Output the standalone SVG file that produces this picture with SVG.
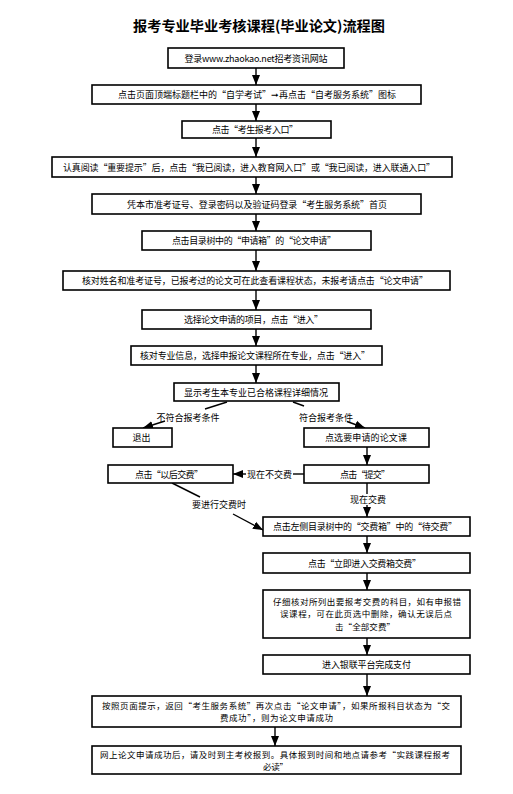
<svg xmlns="http://www.w3.org/2000/svg" width="513" height="794" viewBox="0 0 513 794">
<style>
  .box { fill: #fff; stroke: #000; stroke-width: 1.6; }
  .t { font-family: "Noto Sans CJK SC", "Liberation Sans", sans-serif; font-size: 9px; fill: #000; text-anchor: middle; }
  .m { font-size: 8.5px; }
  .title { font-family: "Noto Sans CJK SC", "Liberation Sans", sans-serif; font-size: 14px; font-weight: bold; fill: #000; text-anchor: middle; }
  .ln { fill: none; stroke: #000; stroke-width: 1.4; }
</style>
<defs>
  <marker id="ah" markerUnits="userSpaceOnUse" markerWidth="10" markerHeight="10" viewBox="0 0 10 10" refX="10" refY="5" orient="auto">
    <path d="M0,1 L10,5 L0,9 Z" fill="#000"/>
  </marker>
</defs>
<rect width="513" height="794" fill="#fff"/>
<text class="title" x="259" y="31" textLength="252" lengthAdjust="spacingAndGlyphs">报考专业毕业考核课程(毕业论文)流程图</text>

<g id="connectors">
  <path class="ln" d="M256,68 V85" marker-end="url(#ah)"/>
  <path class="ln" d="M256,104 V121" marker-end="url(#ah)"/>
  <path class="ln" d="M256,138 V157" marker-end="url(#ah)"/>
  <path class="ln" d="M256,177 V194" marker-end="url(#ah)"/>
  <path class="ln" d="M256,214 V231" marker-end="url(#ah)"/>
  <path class="ln" d="M256,250 V271" marker-end="url(#ah)"/>
  <path class="ln" d="M256,290 V310" marker-end="url(#ah)"/>
  <path class="ln" d="M256,329 V346" marker-end="url(#ah)"/>
  <path class="ln" d="M256,365 V383" marker-end="url(#ah)"/>
  <path class="ln" d="M227,402 L205,409"/>
  <path class="ln" d="M165,421 L143,428" marker-end="url(#ah)"/>
  <text class="t" x="188" y="420.5">不符合报考条件</text>
  <path class="ln" d="M293,402 L304,406"/>
  <path class="ln" d="M347,421.5 L365,428" marker-end="url(#ah)"/>
  <text class="t" x="326" y="420.5">符合报考条件</text>
  <path class="ln" d="M367,447 V465" marker-end="url(#ah)"/>
  <path class="ln" d="M304,474 H293"/>
  <path class="ln" d="M246,474 H233" marker-end="url(#ah)"/>
  <text class="t" x="269.5" y="477.5">现在不交费</text>
  <path class="ln" d="M367,483 V494"/>
  <path class="ln" d="M367,505 V517" marker-end="url(#ah)"/>
  <text class="t" x="368" y="502.5">现在交费</text>
  <path class="ln" d="M172,483 L200,497"/>
  <path class="ln" d="M233,514 L263,530" marker-end="url(#ah)"/>
  <text class="t" x="219" y="507.5">要进行交费时</text>
  <path class="ln" d="M367,536 V553" marker-end="url(#ah)"/>
  <path class="ln" d="M367,573 V590" marker-end="url(#ah)"/>
  <path class="ln" d="M367,638 V655" marker-end="url(#ah)"/>
  <path class="ln" d="M367,674 V696" marker-end="url(#ah)"/>
  <path class="ln" d="M275,727 V746" marker-end="url(#ah)"/>
</g>

<g id="n1"><rect class="box" x="168" y="48" width="176" height="20"/><text class="t" x="256" y="61.5" textLength="143" lengthAdjust="spacing">登录www.zhaokao.net招考资讯网站</text></g>
<g id="n2"><rect class="box" x="92" y="85" width="329" height="19"/><text class="t" x="257" y="98" textLength="278" lengthAdjust="spacing">点击页面顶端标题栏中的“自学考试”➞再点击“自考服务系统”图标</text></g>
<g id="n3"><rect class="box" x="182" y="121" width="149" height="17"/><text class="t" x="255" y="133" textLength="86" lengthAdjust="spacing">点击“考生报考入口”</text></g>
<g id="n4"><rect class="box" x="52" y="157" width="400" height="20"/><text class="t" x="249" y="170.5" textLength="372" lengthAdjust="spacing">认真阅读“重要提示”后，点击“我已阅读，进入教育网入口”或“我已阅读，进入联通入口”</text></g>
<g id="n5"><rect class="box" x="92" y="194" width="329" height="20"/><text class="t" x="257" y="207.5" textLength="260" lengthAdjust="spacing">凭本市准考证号、登录密码以及验证码登录“考生服务系统”首页</text></g>
<g id="n6"><rect class="box" x="142" y="231" width="229" height="19"/><text class="t" x="254" y="244" textLength="164" lengthAdjust="spacing">点击目录树中的“申请箱”的“论文申请”</text></g>
<g id="n7"><rect class="box" x="63" y="271" width="387" height="19"/><text class="t" x="255" y="284" textLength="346" lengthAdjust="spacing">核对姓名和准考证号，已报考过的论文可在此查看课程状态，未报考请点击“论文申请”</text></g>
<g id="n8"><rect class="box" x="142" y="310" width="229" height="19"/><text class="t" x="253.5" y="323" textLength="139" lengthAdjust="spacing">选择论文申请的项目，点击“进入”</text></g>
<g id="n9"><rect class="box" x="131" y="346" width="251" height="19"/><text class="t" x="255" y="359" textLength="230" lengthAdjust="spacing">核对专业信息，选择申报论文课程所在专业，点击“进入”</text></g>
<g id="n10"><rect class="box" x="174" y="383" width="165" height="18"/><text class="t" x="256" y="395.5" textLength="144" lengthAdjust="spacing">显示考生本专业已合格课程详细情况</text></g>
<g id="n11"><rect class="box" x="113" y="428" width="59" height="19"/><text class="t" x="141.5" y="441">退出</text></g>
<g id="n12"><rect class="box" x="304" y="428" width="125" height="19"/><text class="t" x="366" y="441" textLength="82" lengthAdjust="spacing">点选要申请的论文课</text></g>
<g id="n13"><rect class="box" x="304" y="465" width="125" height="18"/><text class="t" x="365" y="477.5" textLength="50" lengthAdjust="spacing">点击“提交”</text></g>
<g id="n14"><rect class="box" x="108" y="465" width="125" height="18"/><text class="t" x="169" y="477.5" textLength="68" lengthAdjust="spacing">点击“以后交费”</text></g>
<g id="n15"><rect class="box" x="263" y="517" width="207" height="19"/><text class="t" x="365" y="530" textLength="184" lengthAdjust="spacing">点击左侧目录树中的“交费箱”中的“待交费”</text></g>
<g id="n16"><rect class="box" x="263" y="553" width="207" height="20"/><text class="t" x="364.5" y="566.5" textLength="113" lengthAdjust="spacing">点击“立即进入交费箱交费”</text></g>
<g id="n17"><rect class="box" x="263" y="590" width="207" height="48"/>
  <text class="t m"><tspan x="367" y="605" textLength="188" lengthAdjust="spacing">仔细核对所列出要报考交费的科目，如有申报错</tspan><tspan x="366" y="617.4" textLength="172" lengthAdjust="spacing">误课程，可在此页选中删除，确认无误后点</tspan><tspan x="365" y="629.8" textLength="60" lengthAdjust="spacing">击“全部交费”</tspan></text>
</g>
<g id="n18"><rect class="box" x="263" y="655" width="207" height="19"/><text class="t" x="366.5" y="668" textLength="89" lengthAdjust="spacing">进入银联平台完成支付</text></g>
<g id="n19"><rect class="box" x="92" y="696" width="369" height="31"/>
  <text class="t m"><tspan x="276" y="709" textLength="348" lengthAdjust="spacing">按照页面提示，返回“考生服务系统”再次点击“论文申请”，如果所报科目状态为“交</tspan><tspan x="276.5" y="721.4" textLength="113" lengthAdjust="spacing">费成功”，则为论文申请成功</tspan></text>
</g>
<g id="n20"><rect class="box" x="92" y="746" width="369" height="28"/>
  <text class="t m"><tspan x="275" y="757.5" textLength="350" lengthAdjust="spacing">网上论文申请成功后，请及时到主考校报到。具体报到时间和地点请参考“实践课程报考</tspan><tspan x="275.5" y="769.9" textLength="25" lengthAdjust="spacing">必读”</tspan></text>
</g>
</svg>
